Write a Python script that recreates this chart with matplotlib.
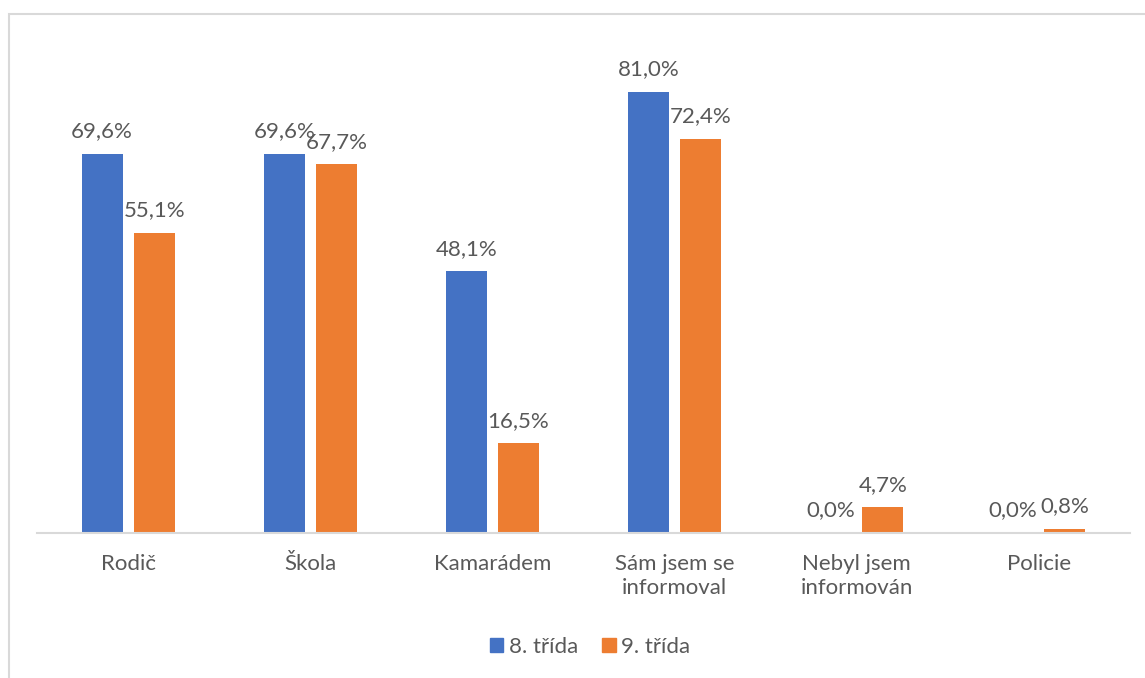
import matplotlib
matplotlib.use("Agg")
import matplotlib.pyplot as plt
import numpy as np
from matplotlib.patches import Rectangle, Patch

categories = ["Rodič", "Škola", "Kamarádem", "Sám jsem se\ninformoval", "Nebyl jsem\ninformován", "Policie"]
series_names = ["8. třída", "9. třída"]
trida8 = [69.6, 69.6, 48.1, 81.0, 0.0, 0.0]
trida9 = [55.1, 67.7, 16.5, 72.4, 4.7, 0.8]
colors = ["#4472C4", "#ED7D31"]

plt.rcParams['font.family'] = ['Lato', 'DejaVu Sans']
txt = "#595959"
fs = 16

W, H = 1145, 678
fig = plt.figure(figsize=(W/100, H/100), dpi=100)
ax = fig.add_axes([37/W, 1-533/H, (1130-37)/W, (533-43)/H])

x = np.arange(len(categories))
bw = 0.225
off = 0.143
for vals, c, sgn in [(trida8, colors[0], -1), (trida9, colors[1], 1)]:
    ax.bar(x + sgn*off, vals, width=bw, color=c)
    for xi, v in zip(x + sgn*off, vals):
        ax.annotate(f"{v:.1f}%".replace(".", ","), (xi, v), xytext=(0, 9),
                    textcoords="offset points", ha="center", va="bottom",
                    fontsize=fs, color=txt)

ax.set_xlim(-0.5, len(categories)-0.5)
ax.set_ylim(0, 90)
ax.set_yticks([])
ax.set_xticks(x)
ax.set_xticklabels(categories, fontsize=fs, color=txt, linespacing=1.25)
ax.tick_params(axis='x', length=0, pad=15)
for s in ["top", "right", "left"]:
    ax.spines[s].set_visible(False)
ax.spines["bottom"].set_color("#D9D9D9")
ax.spines["bottom"].set_linewidth(1.5)

handles = [Patch(color=c) for c in colors]
leg = fig.legend(handles, series_names, loc="center", bbox_to_anchor=(590/W, 1-647/H),
                 ncol=2, frameon=False, fontsize=fs, handlelength=0.6, handleheight=0.6,
                 handletextpad=0.25, columnspacing=1.1)
for t in leg.get_texts():
    t.set_color(txt)

fig.patches.append(Rectangle((8.5/W, -0.1), 1.2, 1.1 - 13.5/H, transform=fig.transFigure,
                             fill=False, edgecolor="#D9D9D9", linewidth=1.5))

fig.savefig("out.png", dpi=100)
